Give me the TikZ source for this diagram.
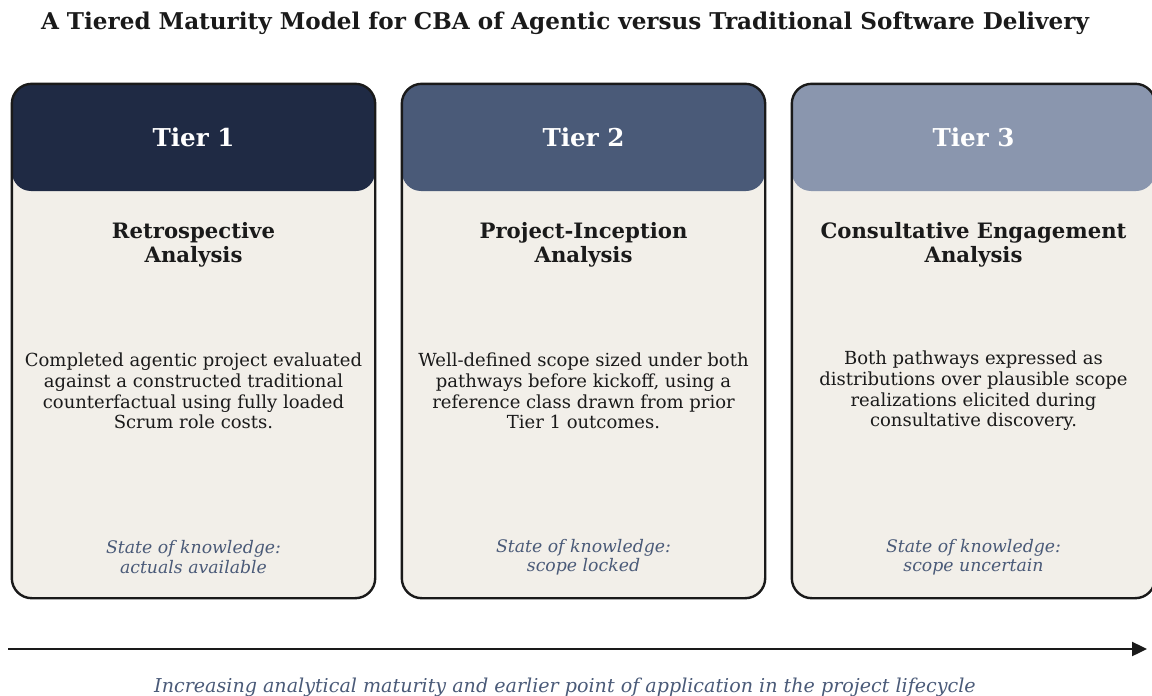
\documentclass[tikz,border=0pt]{standalone}
\usepackage{fontspec}
\setmainfont{DejaVu Serif}
\usetikzlibrary{arrows.meta}
\definecolor{tierA}{HTML}{1F2A44}
\definecolor{tierB}{HTML}{4A5A78}
\definecolor{tierC}{HTML}{8A96AE}
\definecolor{cardbg}{HTML}{F2EFE9}
\definecolor{ink}{HTML}{1A1A1A}
\definecolor{slate}{HTML}{4A5A78}
\tikzset{
  tcard/.style={fill=cardbg,minimum width=363pt,minimum height=514pt,rounded corners=20pt,inner sep=0pt},
  thead/.style={fill=#1,minimum width=363pt,minimum height=107pt,rounded corners=19pt,inner sep=0pt,
    text=white,font=\fontsize{24.6}{28}\selectfont\bfseries},
  tedge/.style={draw=ink,line width=2.4pt,rounded corners=20pt},
  tsub/.style={text=ink,align=center,font=\fontsize{21.2}{24}\selectfont\bfseries},
  tbody/.style={text=ink,align=center,font=\fontsize{18}{20.6}\selectfont},
  tknow/.style={text=slate,align=center,font=\fontsize{17.3}{19.2}\selectfont\itshape},
  timeline/.style={draw=ink,line width=2.4pt,-{Triangle[length=15pt,width=14pt]}},
}
\begin{document}
\begin{tikzpicture}[x=1pt,y=-1pt]
\useasboundingbox (0,0) rectangle (1152,696);
% ---- title
\node[text=ink,font=\fontsize{23.1}{27}\selectfont\bfseries,anchor=base] (title) at (565,29)
  {A Tiered Maturity Model for CBA of Agentic versus Traditional Software Delivery};
% ---- the three cards: background, coloured header, outline on top
\foreach \i/\X/\hc in {1/193.5/tierA,2/583.5/tierB,3/973.5/tierC}{
  \node[tcard] (card\i) at (\X,341) {};
  \node[thead=\hc,anchor=north] (head\i) at (card\i.north) {Tier \i};
  \draw[tedge] (card\i.north west) rectangle (card\i.south east);
}
% ---- tier 1: looking back
\node[tsub] (sub1) at (193.5,244.5) {Retrospective\\Analysis};
\node[tbody] (body1) at (193.5,391) {Completed agentic project evaluated\\against a constructed traditional\\counterfactual using fully loaded\\Scrum role costs.};
\node[tknow] (know1) at (193.5,557) {State of knowledge:\\actuals available};
% ---- tier 2: sized before kickoff
\node[tsub] (sub2) at (583.5,244.5) {Project-Inception\\Analysis};
\node[tbody] (body2) at (583.5,391) {Well-defined scope sized under both\\pathways before kickoff, using a\\reference class drawn from prior\\Tier 1 outcomes.};
\node[tknow] (know2) at (583.5,557) {State of knowledge:\\scope locked};
% ---- tier 3: scope still open
\node[tsub] (sub3) at (973.5,244.5) {Consultative Engagement\\Analysis};
\node[tbody] (body3) at (973.5,391) {Both pathways expressed as\\distributions over plausible scope\\realizations elicited during\\consultative discovery.};
\node[tknow] (know3) at (973.5,557) {State of knowledge:\\scope uncertain};
% ---- maturity axis
\coordinate (axisL) at (8,649);
\coordinate (axisR) at (1147,649);
\draw[timeline] (axisL) -- (axisR);
\node[text=slate,font=\fontsize{19.1}{22}\selectfont\itshape,anchor=base] (axiscap) at (565,692)
  {Increasing analytical maturity and earlier point of application in the project lifecycle};
\end{tikzpicture}
\end{document}
